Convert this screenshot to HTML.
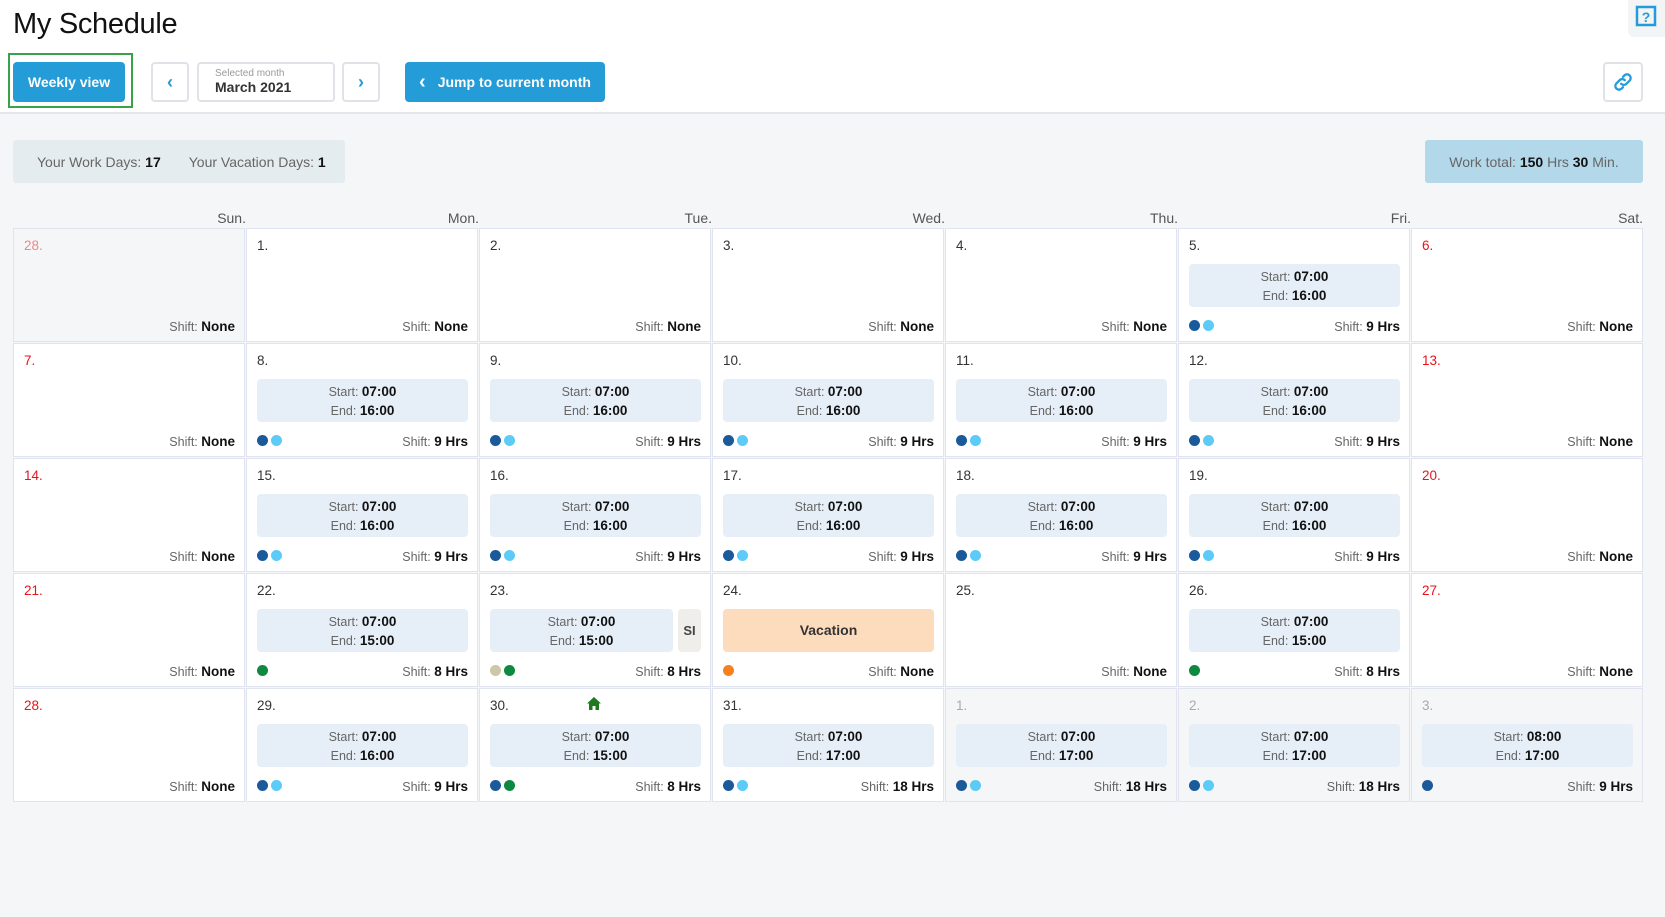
<!DOCTYPE html>
<html><head><meta charset="utf-8"><style>
*{box-sizing:border-box;margin:0;padding:0}
body{width:1665px;height:917px;background:#f5f6f8;font-family:"Liberation Sans",sans-serif;position:relative;overflow:hidden;color:#222}
.top{position:absolute;left:0;top:0;width:1665px;height:114px;background:#fff;border-bottom:2px solid #e3e7ec}
h1{position:absolute;left:13px;top:8px;font-size:29px;font-weight:normal;color:#111;letter-spacing:-0.3px}
.btn{position:absolute;top:62px;height:40px;border-radius:4px;background:#239cd7;color:#fff;font-weight:bold;font-size:14px;display:flex;align-items:center;justify-content:center}
.ob{position:absolute;top:62px;height:40px;border:2px solid #dfe3e8;border-radius:4px;background:#fff;color:#239cd7;display:flex;align-items:center;justify-content:center;font-size:18px;font-weight:bold}
.stat{position:absolute;top:140px;height:43px;border-radius:3px;font-size:14px;color:#666;display:flex;align-items:center}
.stat b{color:#111}
.dh{position:absolute;top:210px;font-size:14px;color:#555;text-align:right;width:120px}
.grid{position:absolute;left:13px;top:228px;width:1630px;display:grid;grid-template-columns:repeat(7,1fr);grid-template-rows:repeat(5,114px);gap:1px}
.c{background:#fff;border:1.5px solid #dfe4f0;position:relative;font-size:14px}
.c.o{background:#f5f6f8}
.d{position:absolute;left:10px;top:9px;color:#333;font-size:13.5px}
.r{color:#e8131b}.g{color:#aaa}.rg{color:#e88}
.bx{position:absolute;left:10px;right:9px;top:35px;height:43px;background:#e6eef7;border-radius:4px;text-align:center;font-size:12.5px;line-height:17.5px;padding-top:4px;color:#666}
.bx b{color:#111;font-size:13.5px}
.sh{position:absolute;right:9px;bottom:7px;font-size:12.5px;color:#666}
.sh b{color:#111;font-size:13.5px}
.dots{position:absolute;left:10px;bottom:10px;display:flex;gap:3px}
.dots i{width:11px;height:11px;border-radius:50%;display:block}
.k{background:#1a5a9b}.l{background:#5ccbf7}.n{background:#0d8a3f}.e{background:#cec6a9}.p{background:#f7821b}
</style></head><body>
<div class="top"></div>
<h1>My Schedule</h1>
<div style="position:absolute;left:8px;top:53px;width:125px;height:55px;border:2px solid #3aa34a"></div>
<div class="btn" style="left:13px;width:112px">Weekly view</div>
<div class="ob" style="left:151px;width:38px">&#8249;</div>
<div style="position:absolute;left:197px;top:62px;width:138px;height:40px;border:2px solid #dfe3e8;border-radius:4px;background:#fff;padding:4px 0 0 16px"><div style="font-size:10px;color:#999">Selected month</div><div style="font-size:14px;font-weight:bold;color:#333">March 2021</div></div>
<div class="ob" style="left:342px;width:38px">&#8250;</div>
<div class="btn" style="left:405px;width:200px"><span style="font-size:20px;margin-right:12px">&#8249;</span>Jump to current month</div>
<div class="ob" style="left:1603px;width:40px"><svg width="22" height="22" viewBox="0 0 24 24" fill="none" stroke="#239cd7" stroke-width="2.5" stroke-linecap="round"><path d="M10 14a4 4 0 0 0 5.7 0l3.5-3.5a4 4 0 0 0-5.7-5.7L12 6.3"/><path d="M14 10a4 4 0 0 0-5.7 0l-3.5 3.5a4 4 0 0 0 5.7 5.7L12 17.7"/></svg></div>
<div style="position:absolute;left:1628px;top:0;width:37px;height:37px;background:#f3f4f6;border-radius:0 0 0 6px"><svg width="37" height="37" viewBox="0 0 37 37"><rect x="9" y="7" width="18" height="18" fill="none" stroke="#239cd7" stroke-width="2.5"/><text x="18" y="22" font-size="14" font-weight="bold" fill="#239cd7" text-anchor="middle" font-family="Liberation Sans">?</text></svg></div>
<div class="stat" style="left:13px;width:332px;background:#e5ecef;padding-left:24px">Your Work Days:&nbsp;<b>17</b><span style="margin-left:28px">Your Vacation Days:&nbsp;<b>1</b></span></div>
<div class="stat" style="left:1425px;width:218px;background:#b3d8ea;justify-content:center">Work total:&nbsp;<b>150</b>&nbsp;Hrs&nbsp;<b>30</b>&nbsp;Min.</div>
<div class="dh" style="left:126px">Sun.</div><div class="dh" style="left:359px">Mon.</div><div class="dh" style="left:592px">Tue.</div><div class="dh" style="left:825px">Wed.</div><div class="dh" style="left:1058px">Thu.</div><div class="dh" style="left:1291px">Fri.</div><div class="dh" style="left:1523px">Sat.</div>
<div class="grid">
<div class="c o"><span class="d rg">28.</span><div class="sh">Shift: <b>None</b></div></div>
<div class="c"><span class="d">1.</span><div class="sh">Shift: <b>None</b></div></div>
<div class="c"><span class="d">2.</span><div class="sh">Shift: <b>None</b></div></div>
<div class="c"><span class="d">3.</span><div class="sh">Shift: <b>None</b></div></div>
<div class="c"><span class="d">4.</span><div class="sh">Shift: <b>None</b></div></div>
<div class="c"><span class="d">5.</span><div class="bx">Start: <b>07:00</b><br>End: <b>16:00</b></div><div class="dots"><i class="k"></i><i class="l"></i></div><div class="sh">Shift: <b>9 Hrs</b></div></div>
<div class="c"><span class="d r">6.</span><div class="sh">Shift: <b>None</b></div></div>

<div class="c"><span class="d r">7.</span><div class="sh">Shift: <b>None</b></div></div>
<div class="c"><span class="d">8.</span><div class="bx">Start: <b>07:00</b><br>End: <b>16:00</b></div><div class="dots"><i class="k"></i><i class="l"></i></div><div class="sh">Shift: <b>9 Hrs</b></div></div>
<div class="c"><span class="d">9.</span><div class="bx">Start: <b>07:00</b><br>End: <b>16:00</b></div><div class="dots"><i class="k"></i><i class="l"></i></div><div class="sh">Shift: <b>9 Hrs</b></div></div>
<div class="c"><span class="d">10.</span><div class="bx">Start: <b>07:00</b><br>End: <b>16:00</b></div><div class="dots"><i class="k"></i><i class="l"></i></div><div class="sh">Shift: <b>9 Hrs</b></div></div>
<div class="c"><span class="d">11.</span><div class="bx">Start: <b>07:00</b><br>End: <b>16:00</b></div><div class="dots"><i class="k"></i><i class="l"></i></div><div class="sh">Shift: <b>9 Hrs</b></div></div>
<div class="c"><span class="d">12.</span><div class="bx">Start: <b>07:00</b><br>End: <b>16:00</b></div><div class="dots"><i class="k"></i><i class="l"></i></div><div class="sh">Shift: <b>9 Hrs</b></div></div>
<div class="c"><span class="d r">13.</span><div class="sh">Shift: <b>None</b></div></div>

<div class="c"><span class="d r">14.</span><div class="sh">Shift: <b>None</b></div></div>
<div class="c"><span class="d">15.</span><div class="bx">Start: <b>07:00</b><br>End: <b>16:00</b></div><div class="dots"><i class="k"></i><i class="l"></i></div><div class="sh">Shift: <b>9 Hrs</b></div></div>
<div class="c"><span class="d">16.</span><div class="bx">Start: <b>07:00</b><br>End: <b>16:00</b></div><div class="dots"><i class="k"></i><i class="l"></i></div><div class="sh">Shift: <b>9 Hrs</b></div></div>
<div class="c"><span class="d">17.</span><div class="bx">Start: <b>07:00</b><br>End: <b>16:00</b></div><div class="dots"><i class="k"></i><i class="l"></i></div><div class="sh">Shift: <b>9 Hrs</b></div></div>
<div class="c"><span class="d">18.</span><div class="bx">Start: <b>07:00</b><br>End: <b>16:00</b></div><div class="dots"><i class="k"></i><i class="l"></i></div><div class="sh">Shift: <b>9 Hrs</b></div></div>
<div class="c"><span class="d">19.</span><div class="bx">Start: <b>07:00</b><br>End: <b>16:00</b></div><div class="dots"><i class="k"></i><i class="l"></i></div><div class="sh">Shift: <b>9 Hrs</b></div></div>
<div class="c"><span class="d r">20.</span><div class="sh">Shift: <b>None</b></div></div>

<div class="c"><span class="d r">21.</span><div class="sh">Shift: <b>None</b></div></div>
<div class="c"><span class="d">22.</span><div class="bx">Start: <b>07:00</b><br>End: <b>15:00</b></div><div class="dots"><i class="n"></i></div><div class="sh">Shift: <b>8 Hrs</b></div></div>
<div class="c"><span class="d">23.</span><div class="bx" style="right:37px">Start: <b>07:00</b><br>End: <b>15:00</b></div><div style="position:absolute;right:9px;top:35px;width:23px;height:43px;background:#efeeea;border-radius:4px;font-size:13px;font-weight:bold;color:#444;text-align:center;line-height:43px">SI</div><div class="dots"><i class="e"></i><i class="n"></i></div><div class="sh">Shift: <b>8 Hrs</b></div></div>
<div class="c"><span class="d">24.</span><div class="bx" style="background:#fddcbd;line-height:35px;font-weight:bold;color:#333;font-size:14px">Vacation</div><div class="dots"><i class="p"></i></div><div class="sh">Shift: <b>None</b></div></div>
<div class="c"><span class="d">25.</span><div class="sh">Shift: <b>None</b></div></div>
<div class="c"><span class="d">26.</span><div class="bx">Start: <b>07:00</b><br>End: <b>15:00</b></div><div class="dots"><i class="n"></i></div><div class="sh">Shift: <b>8 Hrs</b></div></div>
<div class="c"><span class="d r">27.</span><div class="sh">Shift: <b>None</b></div></div>

<div class="c"><span class="d r">28.</span><div class="sh">Shift: <b>None</b></div></div>
<div class="c"><span class="d">29.</span><div class="bx">Start: <b>07:00</b><br>End: <b>16:00</b></div><div class="dots"><i class="k"></i><i class="l"></i></div><div class="sh">Shift: <b>9 Hrs</b></div></div>
<div class="c"><span class="d">30.</span><svg style="position:absolute;left:107px;top:8px" width="14" height="13" viewBox="0 0 14 13"><path d="M7 0L0 6.5h2V13h3.5V9h3v4H12V6.5h2z" fill="#1f7a1f"/></svg><div class="bx">Start: <b>07:00</b><br>End: <b>15:00</b></div><div class="dots"><i class="k"></i><i class="n"></i></div><div class="sh">Shift: <b>8 Hrs</b></div></div>
<div class="c"><span class="d">31.</span><div class="bx">Start: <b>07:00</b><br>End: <b>17:00</b></div><div class="dots"><i class="k"></i><i class="l"></i></div><div class="sh">Shift: <b>18 Hrs</b></div></div>
<div class="c o"><span class="d g">1.</span><div class="bx">Start: <b>07:00</b><br>End: <b>17:00</b></div><div class="dots"><i class="k"></i><i class="l"></i></div><div class="sh">Shift: <b>18 Hrs</b></div></div>
<div class="c o"><span class="d g">2.</span><div class="bx">Start: <b>07:00</b><br>End: <b>17:00</b></div><div class="dots"><i class="k"></i><i class="l"></i></div><div class="sh">Shift: <b>18 Hrs</b></div></div>
<div class="c o"><span class="d g">3.</span><div class="bx">Start: <b>08:00</b><br>End: <b>17:00</b></div><div class="dots"><i class="k"></i></div><div class="sh">Shift: <b>9 Hrs</b></div></div>
</div>
</body></html>
